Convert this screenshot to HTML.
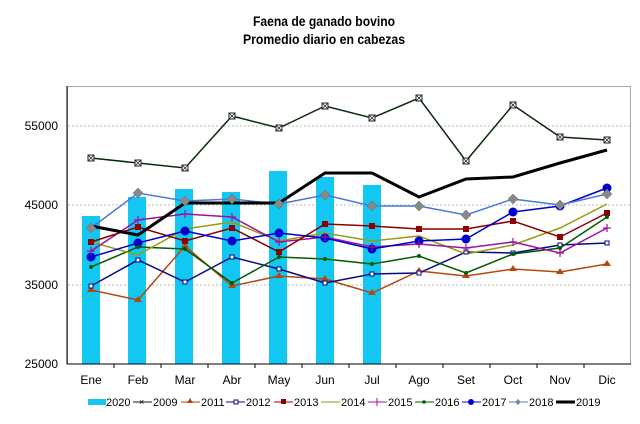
<!DOCTYPE html>
<html><head><meta charset="utf-8"><style>
html,body{margin:0;padding:0;background:#fff;width:640px;height:424px;overflow:hidden}
svg{display:block}
text{font-family:"Liberation Sans",Arial,sans-serif}
</style></head><body>
<svg width="640" height="424" viewBox="0 0 640 424" xmlns="http://www.w3.org/2000/svg">
<rect width="640" height="424" fill="#fff"/>
<text x="324" y="26" font-size="14" font-weight="bold" text-anchor="middle" textLength="142" lengthAdjust="spacingAndGlyphs">Faena de ganado bovino</text>
<text x="324" y="44" font-size="14" font-weight="bold" text-anchor="middle" textLength="162" lengthAdjust="spacingAndGlyphs">Promedio diario en cabezas</text>
<rect x="67.5" y="86.5" width="563" height="277.5" fill="#fff" stroke="#aaa" stroke-width="1"/>
<g stroke="#bbb" stroke-dasharray="2,2" stroke-width="1">
<line x1="68" x2="630" y1="126" y2="126"/><line x1="68" x2="630" y1="205" y2="205"/><line x1="68" x2="630" y1="285" y2="285"/>
</g>
<g fill="#12c8f2">
<rect x="82" y="216" width="18" height="148"/><rect x="128" y="197" width="18" height="167"/><rect x="175" y="189" width="18" height="175"/><rect x="222" y="192" width="18" height="172"/><rect x="269" y="171" width="18" height="193"/><rect x="316" y="177" width="18" height="187"/><rect x="363" y="185" width="18" height="179"/>
</g>
<line x1="67" y1="364" x2="631" y2="364" stroke="#000"/>
<line x1="67" y1="86" x2="67" y2="364" stroke="#000"/>
<g stroke="#000"><line x1="114" x2="114" y1="364" y2="368"/><line x1="161" x2="161" y1="364" y2="368"/><line x1="208" x2="208" y1="364" y2="368"/><line x1="255" x2="255" y1="364" y2="368"/><line x1="302" x2="302" y1="364" y2="368"/><line x1="349" x2="349" y1="364" y2="368"/><line x1="396" x2="396" y1="364" y2="368"/><line x1="443" x2="443" y1="364" y2="368"/><line x1="490" x2="490" y1="364" y2="368"/><line x1="537" x2="537" y1="364" y2="368"/><line x1="584" x2="584" y1="364" y2="368"/></g>
<g font-size="12" text-anchor="end" fill="#000"><text x="58" y="130">55000</text><text x="58" y="209">45000</text><text x="58" y="289">35000</text><text x="58" y="368">25000</text></g>
<g font-size="12" text-anchor="middle" fill="#000"><text x="91" y="384">Ene</text><text x="138" y="384">Feb</text><text x="185" y="384">Mar</text><text x="232" y="384">Abr</text><text x="279" y="384">May</text><text x="325" y="384">Jun</text><text x="372" y="384">Jul</text><text x="419" y="384">Ago</text><text x="466" y="384">Set</text><text x="513" y="384">Oct</text><text x="560" y="384">Nov</text><text x="607" y="384">Dic</text></g>
<g fill="none" stroke-width="1.5">
<polyline stroke="#b5470e" points="91,290 138,300 185,246 232,286 279,276 325,279 372,293 419,271 466,276 513,269 560,272 607,264"/>
<polyline stroke="#0a0a80" points="91,286 138,260 185,282 232,257 279,269 325,283 372,274 419,273 466,252 513,253 560,245 607,243"/>
<polyline stroke="#005a00" points="91,267 138,247 185,249 232,283 279,257 325,259 372,264 419,256 466,273 513,254 560,248 607,217"/>
<polyline stroke="#9a9a10" points="91,242 138,255 185,229 232,222 279,241 325,233 372,241 419,236 466,254 513,245 560,228 607,204"/>
<polyline stroke="#a010a0" points="91,251 138,220 185,214 232,217 279,242 325,237 372,247 419,244 466,248 513,242 560,253 607,228"/>
<polyline stroke="#8b0000" points="91,242 138,227 185,241 232,228 279,252 325,224 372,226 419,229 466,229 513,221 560,237 607,213"/>
<polyline stroke="#0000cc" points="91,257 138,243 185,231 232,241 279,233 325,238 372,249 419,241 466,239 513,212 560,206 607,188"/>
<polyline stroke="#4a78e0" points="91,228 138,193 185,201 232,199 279,204 325,195 372,206 419,206 466,215 513,199 560,205 607,194"/>
<polyline stroke="#0a2a0a" points="91,158 138,163 185,168 232,116 279,128 325,106 372,118 419,98 466,161 513,105 560,137 607,140"/>
<polyline stroke="#000" stroke-width="3" points="91,226 138,235 185,203 232,203 279,203 325,173 372,173 419,197 466,179 513,177 560,163 607,150"/>
</g>
<g fill="#b5470e"><path d="M91,286l4,6h-8z M138,296l4,6h-8z M185,242l4,6h-8z M232,282l4,6h-8z M279,272l4,6h-8z M325,275l4,6h-8z M372,289l4,6h-8z M419,267l4,6h-8z M466,272l4,6h-8z M513,265l4,6h-8z M560,268l4,6h-8z M607,260l4,6h-8z"/></g>
<g fill="#fff" stroke="#0a0a80"><rect x="89" y="284" width="4" height="4"/><rect x="136" y="258" width="4" height="4"/><rect x="183" y="280" width="4" height="4"/><rect x="230" y="255" width="4" height="4"/><rect x="277" y="267" width="4" height="4"/><rect x="323" y="281" width="4" height="4"/><rect x="370" y="272" width="4" height="4"/><rect x="417" y="271" width="4" height="4"/><rect x="464" y="250" width="4" height="4"/><rect x="511" y="251" width="4" height="4"/><rect x="558" y="243" width="4" height="4"/><rect x="605" y="241" width="4" height="4"/></g>
<g fill="#8b0000"><rect x="88" y="239" width="6" height="6"/><rect x="135" y="224" width="6" height="6"/><rect x="182" y="238" width="6" height="6"/><rect x="229" y="225" width="6" height="6"/><rect x="276" y="249" width="6" height="6"/><rect x="322" y="221" width="6" height="6"/><rect x="369" y="223" width="6" height="6"/><rect x="416" y="226" width="6" height="6"/><rect x="463" y="226" width="6" height="6"/><rect x="510" y="218" width="6" height="6"/><rect x="557" y="234" width="6" height="6"/><rect x="604" y="210" width="6" height="6"/></g>
<g fill="#0000cc"><circle cx="91" cy="257" r="4.5"/><circle cx="138" cy="243" r="4.5"/><circle cx="185" cy="231" r="4.5"/><circle cx="232" cy="241" r="4.5"/><circle cx="279" cy="233" r="4.5"/><circle cx="325" cy="238" r="4.5"/><circle cx="372" cy="249" r="4.5"/><circle cx="419" cy="241" r="4.5"/><circle cx="466" cy="239" r="4.5"/><circle cx="513" cy="212" r="4.5"/><circle cx="560" cy="206" r="4.5"/><circle cx="607" cy="188" r="4.5"/></g>
<g fill="#888" stroke="#666" stroke-width="0.5"><path d="M91,223l5,5-5,5-5-5z M138,188l5,5-5,5-5-5z M185,196l5,5-5,5-5-5z M232,194l5,5-5,5-5-5z M279,199l5,5-5,5-5-5z M325,190l5,5-5,5-5-5z M372,201l5,5-5,5-5-5z M419,201l5,5-5,5-5-5z M466,210l5,5-5,5-5-5z M513,194l5,5-5,5-5-5z M560,200l5,5-5,5-5-5z M607,189l5,5-5,5-5-5z"/></g>
<g stroke="#a010a0" stroke-width="1.2"><path d="M87,251h8M91,247v8 M134,220h8M138,216v8 M181,214h8M185,210v8 M228,217h8M232,213v8 M275,242h8M279,238v8 M321,237h8M325,233v8 M368,247h8M372,243v8 M415,244h8M419,240v8 M462,248h8M466,244v8 M509,242h8M513,238v8 M556,253h8M560,249v8 M603,228h8M607,224v8"/></g>
<g fill="#005a00"><circle cx="91" cy="267" r="2"/><circle cx="138" cy="247" r="2"/><circle cx="185" cy="249" r="2"/><circle cx="232" cy="283" r="2"/><circle cx="279" cy="257" r="2"/><circle cx="325" cy="259" r="2"/><circle cx="372" cy="264" r="2"/><circle cx="419" cy="256" r="2"/><circle cx="466" cy="273" r="2"/><circle cx="513" cy="254" r="2"/><circle cx="560" cy="248" r="2"/><circle cx="607" cy="217" r="2"/></g>
<g fill="#fff" stroke="#222" stroke-width="1"><rect x="88" y="155" width="6" height="6"/><rect x="135" y="160" width="6" height="6"/><rect x="182" y="165" width="6" height="6"/><rect x="229" y="113" width="6" height="6"/><rect x="276" y="125" width="6" height="6"/><rect x="322" y="103" width="6" height="6"/><rect x="369" y="115" width="6" height="6"/><rect x="416" y="95" width="6" height="6"/><rect x="463" y="158" width="6" height="6"/><rect x="510" y="102" width="6" height="6"/><rect x="557" y="134" width="6" height="6"/><rect x="604" y="137" width="6" height="6"/></g>
<g stroke="#222" stroke-width="0.8"><path d="M88,155l6,6M94,155l-6,6 M135,160l6,6M141,160l-6,6 M182,165l6,6M188,165l-6,6 M229,113l6,6M235,113l-6,6 M276,125l6,6M282,125l-6,6 M322,103l6,6M328,103l-6,6 M369,115l6,6M375,115l-6,6 M416,95l6,6M422,95l-6,6 M463,158l6,6M469,158l-6,6 M510,102l6,6M516,102l-6,6 M557,134l6,6M563,134l-6,6 M604,137l6,6M610,137l-6,6"/></g>
<g font-size="11" fill="#000">
<rect x="88" y="399" width="18" height="6" fill="#12c8f2"/><text x="106" y="406">2020</text>
<line x1="133" x2="152" y1="402" y2="402" stroke="#0a2a0a"/><text x="139" y="405" font-size="9">×</text><text x="153" y="406">2009</text>
<line x1="181" x2="200" y1="402" y2="402" stroke="#b5470e"/><path d="M190,398l3,5h-6z" fill="#b5470e"/><text x="201" y="406">2011</text>
<line x1="226" x2="245" y1="402" y2="402" stroke="#0a0a80"/><rect x="234" y="400" width="4" height="4" fill="#fff" stroke="#0a0a80"/><text x="246" y="406">2012</text>
<line x1="274" x2="293" y1="402" y2="402" stroke="#8b0000"/><rect x="281" y="399" width="5" height="5" fill="#8b0000"/><text x="294" y="406">2013</text>
<line x1="321" x2="340" y1="402" y2="402" stroke="#9a9a10"/><text x="341" y="406">2014</text>
<line x1="368" x2="387" y1="402" y2="402" stroke="#a010a0"/><line x1="377" x2="377" y1="398" y2="406" stroke="#a010a0"/><text x="388" y="406">2015</text>
<line x1="415" x2="434" y1="402" y2="402" stroke="#005a00"/><circle cx="424" cy="402" r="1.8" fill="#005a00"/><text x="435" y="406">2016</text>
<line x1="462" x2="481" y1="402" y2="402" stroke="#0000cc"/><circle cx="471" cy="402" r="3" fill="#0000cc"/><text x="482" y="406">2017</text>
<line x1="509" x2="528" y1="402" y2="402" stroke="#4a78e0"/><path d="M518,399l3,3-3,3-3-3z" fill="#888"/><text x="529" y="406">2018</text>
<line x1="556" x2="575" y1="402" y2="402" stroke="#000" stroke-width="3"/><text x="576" y="406">2019</text>
</g>
</svg>
</body></html>
